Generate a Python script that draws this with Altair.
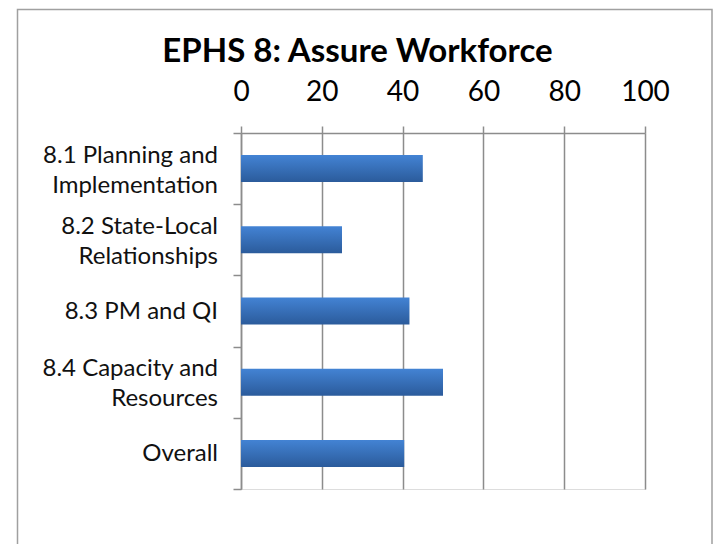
import altair as alt
import pandas as pd

# ---- data ----
categories = [
    "8.1 Planning and|Implementation",
    "8.2 State-Local|Relationships",
    "8.3  PM and QI",
    "8.4 Capacity and|Resources",
    "Overall",
]
scores = [45, 25, 41.7, 50, 40.4]
x_ticks = [0, 20, 40, 60, 80, 100]
chart_title = "EPHS 8: Assure Workforce"

df = pd.DataFrame({"category": categories, "score": scores})

FONT = "Lato"
GRID = "#8c8c8c"

bar_fill = alt.Gradient(
    gradient="linear", x1=0, y1=0, x2=0, y2=1,
    stops=[
        alt.GradientStop(color="#4383d4", offset=0),
        alt.GradientStop(color="#2b5b9b", offset=1),
    ],
)

y_enc = alt.Y(
    "category:N", sort=None,
    scale=alt.Scale(paddingInner=0, paddingOuter=0),
    axis=alt.Axis(
        title=None, grid=False, tickBand="extent", labels=False,
        domainColor=GRID, domainWidth=1.5,
        tickColor=GRID, tickWidth=1.5, tickSize=8,
    ),
)

bars = alt.Chart(df).mark_bar(color=bar_fill, size=27).encode(
    x=alt.X(
        "score:Q",
        scale=alt.Scale(domain=[0, 100], nice=False),
        axis=alt.Axis(
            orient="top", values=x_ticks, title=None,
            grid=True, gridColor=GRID, gridWidth=1.5,
            domainColor=GRID, domainWidth=1.5,
            tickColor=GRID, tickWidth=1.5, tickSize=7,
            labelFont=FONT, labelFontSize=28, labelColor="black",
            labelPadding=20, labelFlush=False,
        ),
    ),
    y=y_enc,
)

label_base = alt.Chart(df).transform_calculate(
    lines="split(datum.category, '|')"
)
label_style = dict(font=FONT, fontSize=24, color="#111111", align="right",
                   baseline="middle", lineHeight=30)

labels_two = label_base.transform_filter("length(datum.lines) > 1").mark_text(
    dy=-13, **label_style
).encode(y=alt.Y("category:N", sort=None), x=alt.value(-23), text="lines:N")

labels_one = label_base.transform_filter("length(datum.lines) == 1").mark_text(
    dy=1, **label_style
).encode(y=alt.Y("category:N", sort=None), x=alt.value(-23), text="lines:N")

title_text = alt.Chart(alt.Data(values=[{"t": chart_title}])).mark_text(
    font=FONT, fontSize=33, fontWeight="bold", color="black",
    align="center", baseline="alphabetic",
).encode(
    text="t:N", x=alt.value(116.5), y=alt.value(-71),
)

frame = alt.Chart(alt.Data(values=[{"f": 1}])).mark_rect(
    fillOpacity=0, stroke="#a0a0a0", strokeWidth=1.5
).encode(
    x=alt.value(-223.5), x2=alt.value(471),
    y=alt.value(-123.5), y2=alt.value(440),
)

chart = alt.layer(frame, bars, labels_two, labels_one, title_text).properties(
    width=404, height=356,
    padding={"left": 233, "top": 125, "right": 69, "bottom": 55},
    autosize=alt.AutoSizeParams(type="none"),
).configure_view(strokeWidth=0).configure(background="white")

chart.save("out.html", embed_options={"renderer": "svg", "actions": False})
